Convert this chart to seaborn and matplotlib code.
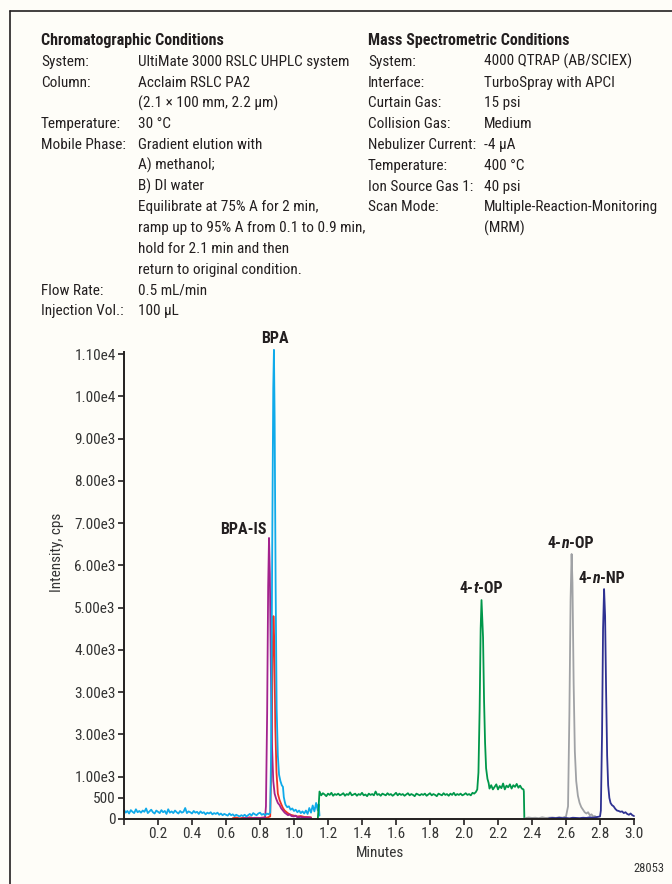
import numpy as np
import pandas as pd
import matplotlib
matplotlib.use("Agg")
import matplotlib.pyplot as plt
import matplotlib.font_manager as fm
from matplotlib.lines import Line2D
import seaborn as sns

sns.set_theme(style="white")

# pick a narrow sans face if one is installed, else a regular one at a reduced size
_CONDENSED = ("condensed", "semi-condensed", "extra-condensed", "ultra-condensed")


def pick_face():
    entries = fm.fontManager.ttflist
    names = {f.name for f in entries}
    for fam in ("Liberation Sans Narrow", "Roboto Condensed", "Arial Narrow",
                "Noto Sans Condensed", "Open Sans Condensed", "DejaVu Sans Condensed"):
        if fam in names:
            return fam, "normal", 1.0
    for fam in ("Noto Sans", "Roboto", "Open Sans", "DejaVu Sans"):
        for f in entries:
            if f.name == fam and f.stretch in _CONDENSED:
                return fam, "condensed", 1.0
    return "Liberation Sans", "normal", 0.9


FACE, STRETCH, SCALE = pick_face()
plt.rcParams["font.family"] = [FACE, "DejaVu Sans"]
plt.rcParams["font.stretch"] = STRETCH

INK = "#231F20"
BG = "#FEFDF8"

# ---------------- chromatogram traces (time in min, intensity in cps) ----------------
# BPA (cyan)
bpa_base_t0, bpa_base_dt = 0.00, 0.01
bpa_base = [220, 150, 190, 130, 210, 170, 140, 230, 160, 190,
            150, 200, 170, 250, 140, 180, 220, 160, 130, 200,
            170, 140, 210, 160, 190, 120, 230, 150, 180, 140,
            200, 160, 130, 190, 150, 170, 260, 140, 180, 160,
            130, 190, 150, 170, 120, 180, 140, 160, 110, 150,
            130, 160, 110, 140, 120, 150, 100, 130, 90, 120,
            100, 80, 130, 90, 110, 70, 100, 80, 60, 90,
            70, 100, 60, 90, 120, 80, 140, 110, 90, 130,
            150, 100, 120, 90, 130, 110]
bpa_peak_t = [0.860, 0.865, 0.872, 0.878, 0.882, 0.886, 0.892, 0.898, 0.905, 0.912,
              0.920, 0.928, 0.935, 0.940, 0.945, 0.950, 0.960, 0.970, 0.980, 0.990,
              1.000, 1.010, 1.020, 1.030, 1.040, 1.050, 1.060, 1.070, 1.080, 1.090,
              1.100, 1.110, 1.120, 1.130, 1.140, 1.145, 1.150]
bpa_peak_y = [150, 1500, 6500, 10200, 11100, 9500, 5500, 2600, 1500, 1050,
              900, 800, 760, 520, 420, 340, 280, 300, 220, 250,
              190, 220, 160, 200, 140, 180, 130, 200, 120, 260,
              150, 320, 180, 380, 200, 350, 80]

# BPA internal standard (magenta)
bpais_t = [0.70, 0.71, 0.72, 0.73, 0.74, 0.75, 0.76, 0.77, 0.78, 0.79,
           0.80, 0.81, 0.82, 0.83, 0.835, 0.842, 0.848, 0.853, 0.858, 0.864,
           0.870, 0.878, 0.886, 0.895, 0.905, 0.915, 0.925, 0.935, 0.945, 0.955,
           0.965, 0.975, 0.985, 1.000, 1.010, 1.020, 1.040, 1.060, 1.080, 1.100]
bpais_y = [20, 10, 30, 15, 25, 10, 20, 30, 15, 25,
           20, 30, 25, 40, 300, 2500, 5500, 6650, 5800, 3500,
           1800, 900, 600, 480, 380, 330, 250, 200, 150, 120,
           90, 110, 70, 60, 80, 40, 50, 30, 40, 30]

# second BPA transition (red)
bpa2_t = [0.64, 0.66, 0.68, 0.70, 0.72, 0.74, 0.76, 0.78, 0.80, 0.82,
          0.84, 0.86, 0.868, 0.874, 0.879, 0.884, 0.890, 0.897, 0.905, 0.915,
          0.925, 0.935, 0.945, 0.960, 0.970, 0.980, 1.000, 1.020, 1.040, 1.060,
          1.080, 1.100]
bpa2_y = [20, 35, 15, 30, 25, 40, 20, 30, 25, 35,
          30, 60, 1500, 3800, 4800, 4200, 2200, 1100, 600, 450,
          350, 260, 200, 150, 120, 100, 80, 60, 70, 50,
          45, 40]

# 4-tert-octylphenol (green)
top_lead_t = [1.140, 1.145, 1.150]
top_lead_y = [0, 300, 650]
top_base_t0, top_base_dt = 1.16, 0.01
top_base = [560, 610, 580, 540, 600, 570, 620, 550, 590, 570,
            600, 560, 580, 610, 550, 590, 570, 630, 560, 580,
            600, 550, 590, 570, 620, 560, 580, 540, 600, 570,
            590, 560, 650, 570, 590, 550, 600, 580, 560, 610,
            570, 590, 550, 580, 620, 560, 600, 570, 590, 550,
            580, 610, 560, 590, 570, 540, 600, 580, 560, 590,
            570, 600, 550, 580, 610, 560, 590, 570, 540, 600,
            580, 560, 610, 570, 590, 550, 600, 570, 620, 560,
            590, 570, 600, 560, 580, 610, 570, 590, 560, 620,
            600]
top_peak_t = [2.070, 2.078, 2.085, 2.092, 2.098, 2.103, 2.108, 2.112, 2.118, 2.124,
              2.130, 2.138, 2.145, 2.150, 2.160, 2.170, 2.180, 2.190, 2.200, 2.210,
              2.220, 2.230, 2.240, 2.250, 2.260, 2.270, 2.280, 2.290, 2.300, 2.310,
              2.320, 2.330, 2.340, 2.350, 2.352, 2.355]
top_peak_y = [640, 700, 1100, 2600, 4500, 5180, 4700, 4300, 2800, 1800,
              1200, 950, 850, 720, 800, 700, 760, 820, 700, 780,
              730, 840, 700, 790, 750, 820, 720, 800, 760, 830,
              740, 790, 720, 700, 650, 0]

# 4-n-octylphenol (gray)
nop_t = [2.36, 2.38, 2.40, 2.42, 2.44, 2.46, 2.48, 2.50, 2.52, 2.54,
         2.56, 2.58, 2.60, 2.612, 2.620, 2.627, 2.633, 2.638, 2.645, 2.652,
         2.660, 2.670, 2.680, 2.690, 2.700, 2.710, 2.720, 2.730, 2.740, 2.750,
         2.760, 2.770, 2.780]
nop_y = [20, 35, 25, 30, 20, 40, 25, 30, 35, 25,
         40, 30, 60, 300, 2500, 5200, 6270, 5600, 3200, 1600,
         900, 550, 380, 280, 220, 160, 130, 160, 90, 110,
         60, 70, 30]

# 4-n-nonylphenol (navy)
nnp_t = [2.50, 2.52, 2.54, 2.56, 2.58, 2.60, 2.62, 2.64, 2.66, 2.68,
         2.70, 2.72, 2.74, 2.76, 2.78, 2.80, 2.805, 2.812, 2.818, 2.824,
         2.830, 2.836, 2.842, 2.848, 2.855, 2.862, 2.870, 2.880, 2.890, 2.900,
         2.910, 2.920, 2.930, 2.940, 2.950, 2.960, 2.970, 2.980, 2.990, 3.000]
nnp_y = [15, 25, 20, 30, 20, 25, 15, 30, 25, 20,
         30, 25, 40, 30, 45, 60, 200, 2000, 4500, 5440,
         4800, 3000, 1500, 800, 500, 380, 330, 300, 240, 200,
         190, 170, 180, 140, 160, 120, 100, 130, 90, 70]

# peak labels: (text before, italic part, text after), anchored at the middle piece
peak_labels = [("BPA", "", ""), ("BPA-IS", "", ""), ("4-", "t", "-OP"),
               ("4-", "n", "-OP"), ("4-", "n", "-NP")]
label_pos_x = [0.885, 0.703, 2.071, 2.594, 2.776]
label_pos_y = [11380, 6860, 5465, 6530, 5700]

x_ticks = [0.0, 0.2, 0.4, 0.6, 0.8, 1.0, 1.2, 1.4, 1.6, 1.8, 2.0, 2.2, 2.4, 2.6, 2.8, 3.0]
x_ticklabels = ["", "0.2", "0.4", "0.6", "0.8", "1.0", "1.2", "1.4", "1.6", "1.8",
                "2.0", "2.2", "2.4", "2.6", "2.8", "3.0"]
y_ticks = [0, 500, 1000, 2000, 3000, 4000, 5000, 6000, 7000, 8000, 9000, 10000, 11000]
y_ticklabels = ["0", "500", "1.00e3", "3.00e3", "3.00e3", "4.00e3", "5.00e3", "6.00e3",
                "7.00e3", "8.00e3", "9.00e3", "1.00e4", "1.10e4"]

chrom_left = [
    ("Chromatographic Conditions", None),
    ("System:", "UltiMate 3000 RSLC UHPLC system"),
    ("Column:", "Acclaim RSLC PA2"),
    ("", "(2.1 \u00d7 100 mm, 2.2 \u00b5m)"),
    ("Temperature:", "30 \u00b0C"),
    ("Mobile Phase:", "Gradient elution with"),
    ("", "A) methanol;"),
    ("", "B) DI water"),
    ("", "Equilibrate at 75% A for 2 min,"),
    ("", "ramp up to 95% A from 0.1 to 0.9 min,"),
    ("", "hold for 2.1 min and then"),
    ("", "return to original condition."),
    ("Flow Rate:", "0.5 mL/min"),
    ("Injection Vol.:", "100 \u00b5L"),
]
ms_right = [
    ("Mass Spectrometric Conditions", None),
    ("System:", "4000 QTRAP (AB/SCIEX)"),
    ("Interface:", "TurboSpray with APCI"),
    ("Curtain Gas:", "15 psi"),
    ("Collision Gas:", "Medium"),
    ("Nebulizer Current:", "-4 \u00b5A"),
    ("Temperature:", "400 \u00b0C"),
    ("Ion Source Gas 1:", "40 psi"),
    ("Scan Mode:", "Multiple-Reaction-Monitoring"),
    ("", "(MRM)"),
]


def trace(ts, ys):
    return pd.DataFrame({"t": ts, "y": ys})


def grid(t0, dt, vals):
    return [round(t0 + i * dt, 4) for i in range(len(vals))]


traces = [
    (trace(bpa2_t, bpa2_y), "#EE3124"),
    (trace(bpais_t, bpais_y), "#A3228D"),
    (trace(grid(bpa_base_t0, bpa_base_dt, bpa_base) + bpa_peak_t, bpa_base + bpa_peak_y), "#0FAAEA"),
    (trace(top_lead_t + grid(top_base_t0, top_base_dt, top_base) + top_peak_t,
           top_lead_y + top_base + top_peak_y), "#00974A"),
    (trace(nop_t, nop_y), "#A0A2A5"),
    (trace(nnp_t, nnp_y), "#2E3192"),
]

FS = 11 * SCALE
HFS = 11.5 * SCALE
W, H = 672, 884
fig = plt.figure(figsize=(W / 100, H / 100), dpi=100, facecolor=BG)

# outer frame: top and left rules
fig.add_artist(Line2D([10 / W, 1.0], [1 - 11 / H, 1 - 11 / H], color=INK, lw=1.2,
                      transform=fig.transFigure))
fig.add_artist(Line2D([10 / W, 10 / W], [0, 1 - 11 / H], color=INK, lw=1.2,
                      transform=fig.transFigure))

# conditions text block
row_y0, row_dy = 41, 20.8
for i, (lab, val) in enumerate(chrom_left):
    y = 1 - (row_y0 + i * row_dy) / H
    if val is None:
        fig.text(41 / W, y, lab, fontsize=HFS, fontweight="bold", color=INK, va="center")
    else:
        fig.text(41 / W, y, lab, fontsize=FS, color=INK, va="center")
        fig.text(138 / W, y, val, fontsize=FS, color=INK, va="center")
for i, (lab, val) in enumerate(ms_right):
    y = 1 - (row_y0 + i * row_dy) / H
    if val is None:
        fig.text(368 / W, y, lab, fontsize=HFS, fontweight="bold", color=INK, va="center")
    else:
        fig.text(368 / W, y, lab, fontsize=FS, color=INK, va="center")
        fig.text(484 / W, y, val, fontsize=FS, color=INK, va="center")

ax = fig.add_axes([124 / W, (H - 819) / H, 510 / W, 467 / H])
ax.set_facecolor(BG)
for df, col in traces:
    sns.lineplot(data=df, x="t", y="y", color=col, lw=1.3, estimator=None, sort=False,
                 ax=ax, clip_on=False)

ax.set_xlim(0, 3.0)
ax.set_ylim(0, 11050)
ax.set_xticks(x_ticks)
ax.set_xticklabels(x_ticklabels)
ax.set_yticks(y_ticks)
ax.set_yticklabels(y_ticklabels)
ax.tick_params(axis="both", direction="out", length=4, width=1.2, color=INK,
               labelsize=FS, labelcolor="#333333", pad=2, bottom=True, left=True)
for side in ("top", "right"):
    ax.spines[side].set_visible(False)
for side in ("left", "bottom"):
    ax.spines[side].set_color(INK)
    ax.spines[side].set_linewidth(1.4)
ax.set_xlabel("")
ax.set_ylabel("")

LFS = 11.5 * SCALE
for (pre, ital, post), px, py in zip(peak_labels, label_pos_x, label_pos_y):
    if not ital:
        ax.text(px, py, pre, ha="center", va="center", fontsize=LFS, fontweight="bold",
                color=INK, clip_on=False)
        continue
    mid = ax.text(px, py, ital, ha="center", va="center", fontsize=LFS,
                  fontweight="bold", fontstyle="italic", color=INK, clip_on=False)
    ax.annotate(pre, xy=(0, 0), xycoords=mid, ha="right", va="bottom", fontsize=LFS,
                fontweight="bold", color=INK, annotation_clip=False)
    ax.annotate(post, xy=(1, 0), xycoords=mid, ha="left", va="bottom", fontsize=LFS,
                fontweight="bold", color=INK, annotation_clip=False)

fig.text(57 / W, 1 - 552 / H, "Intensity, cps", rotation=90, ha="center", va="center",
         fontsize=FS, color="#333333")
fig.text(380 / W, 1 - 853 / H, "Minutes", ha="center", va="center", fontsize=FS,
         color="#333333")
fig.text(664 / W, 1 - 869 / H, "28053", ha="right", va="center", fontsize=9 * SCALE,
         color="#333333")

fig.savefig("out.png", dpi=100, facecolor=BG)
